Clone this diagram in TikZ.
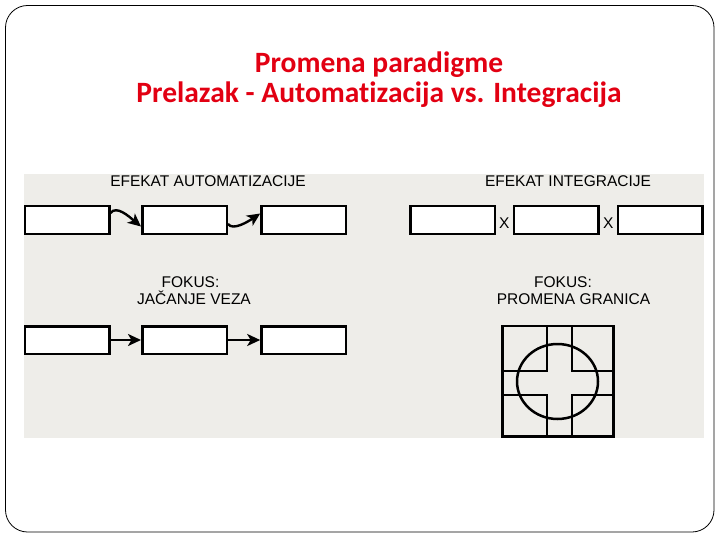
\documentclass[tikz,border=0pt]{standalone}
\usepackage{fontspec}
\newfontfamily\titlefont{Carlito}[Ligatures={NoCommon,NoContextual}]
\newfontfamily\labelfont{Liberation Sans}
\usetikzlibrary{arrows.meta,positioning,calc}
\definecolor{panelgray}{RGB}{238,237,233}
\definecolor{titlered}{RGB}{226,0,18}

\begin{document}
\begin{tikzpicture}[x=1pt,y=-1pt,
 box/.style={draw,line width=2.5pt,fill=white,minimum width=84.5pt,minimum height=27.5pt,inner sep=0pt},
 lbl/.style={font=\labelfont\fontsize{15.5}{18}\selectfont,inner sep=0pt,text height=11pt,text depth=0pt},
 link/.style={line width=2.4pt,-{Stealth[length=13pt,width=12pt,inset=3.5pt]}},
 granica/.style={line width=2.5pt}]

 \useasboundingbox (0,0) rectangle (720,540);
 \draw[line width=0.8pt,rounded corners=22pt] (5.5,5.5) rectangle (714,532);

% naslov
 \node (title) [text=titlered,align=center,
        font=\titlefont\bfseries\fontsize{29.5}{30}\selectfont] at (379,80)
        {Promena paradigme\\Prelazak - Automatizacija vs. Integracija};

 \fill[panelgray] (24,174) rectangle (704,438);

% automatizacija
 \node[lbl] (effA) at (208,181) {EFEKAT AUTOMATIZACIJE};
 \node[box] (a1) at (67,220) {};
 \node[box] (a2) at (184.5,220) {};
 \node[box] (a3) at (303.7,220) {};
 \draw[link] ([yshift=7pt]a1.east) .. controls +(6,-8) and +(-12,-10) .. ([yshift=-6.5pt]a2.west);
 \draw[link] ([yshift=-4pt]a2.east) .. controls +(5,7) and +(-12,8) .. ([yshift=6.5pt]a3.west);

% integracija
 \node[lbl] (effB) at (568,181) {EFEKAT INTEGRACIJE};
 \node[box] (b1) at (452.5,220) {};
 \node[box] (b2) at (556.3,220) {};
 \node[box] (b3) at (660.3,220) {};
 \node[lbl] (x1) at ($(b1.east)!0.5!(b2.west)+(0,3)$) {X};
 \node[lbl] (x2) at ($(b2.east)!0.5!(b3.west)+(0,3)$) {X};

% fokus: veze
 \node[lbl] (fokA) at (190.5,281.5) {FOKUS:};
 \node[lbl] (vezA) at (194,299) {JAČANJE VEZA};
 \node[box] (c1) at (67,340) {};
 \node[box] (c2) at (184.5,340) {};
 \node[box] (c3) at (303.7,340) {};
 \draw[link] (c1) -- (c2);
 \draw[link] (c2) -- (c3);

% fokus: granice
 \node[lbl] (fokB) at (563,281.5) {FOKUS:};
 \node[lbl] (graB) at (573.5,299) {PROMENA GRANICA};
 \draw[granica] (502.5,326) rectangle (613.3,436.7);
 \foreach \xa/\xb in {502.5/547,572/613.3}
   \foreach \ya/\yb in {326/371,395/436.7}
     \draw[granica] (\xa,\ya) rectangle (\xb,\yb);
 \coordinate (gc) at (557.5,381.5);
 \draw[granica] (gc) ellipse [x radius=40.5, y radius=37.5];

\end{tikzpicture}
\end{document}
